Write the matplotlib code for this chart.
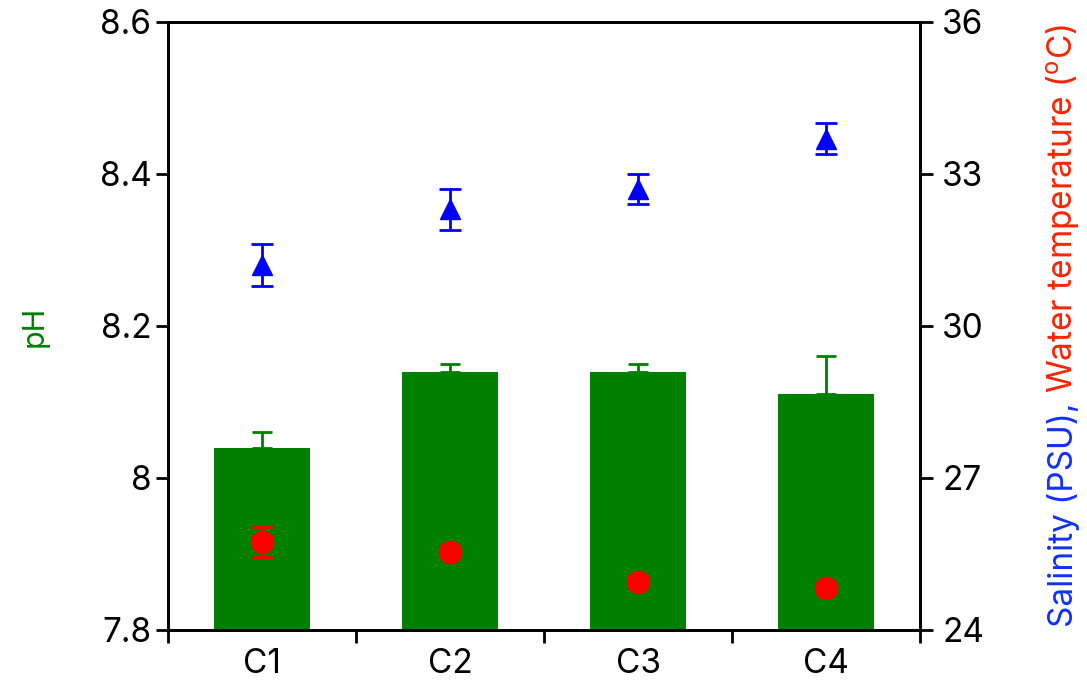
import numpy as np
import matplotlib
matplotlib.use("Agg")
import matplotlib.pyplot as plt

plt.rcParams['font.family'] = ['Inter', 'DejaVu Sans']

sites = ['C1', 'C2', 'C3', 'C4']
ph = [8.04, 8.14, 8.14, 8.11]
ph_err = [0.02, 0.01, 0.01, 0.05]
salinity = [31.2, 32.3, 32.7, 33.7]
salinity_err = [0.41, 0.41, 0.3, 0.3]
water_temp = [25.74, 25.54, 24.95, 24.83]
water_temp_err = [0.3, 0.1, 0.1, 0.1]

x = np.arange(1, len(sites) + 1)

fig = plt.figure(figsize=(10.87, 6.81), dpi=100)
ax = fig.add_axes([0.1546, 0.0749, 0.6918, 0.8928])

ax.bar(x, ph, width=0.51, color='green', zorder=2)
ax.errorbar(x, ph, yerr=[np.zeros(4), ph_err], fmt='none', ecolor='green',
            elinewidth=2, capsize=7, capthick=2, zorder=3)
ax.set_ylim(7.8, 8.6)
ax.set_xlim(0.5, 4.5)
ax.set_yticks([7.8, 8.0, 8.2, 8.4, 8.6])
ax.set_yticklabels(['7.8', '8', '8.2', '8.4', '8.6'])
ax.set_xticks(x)
ax.set_xticklabels(sites)
ax.set_xticks(np.arange(0.5, 4.6, 1.0), minor=True)
ax.tick_params(axis='x', which='major', length=0, labelsize=24, pad=13)
ax.tick_params(axis='x', which='minor', length=9, width=2, direction='out')
ax.tick_params(axis='y', length=9, width=2, labelsize=24, direction='out', pad=3)
for s in ax.spines.values():
    s.set_linewidth(2)

ax2 = ax.twinx()
ax2.set_ylim(24, 36)
ax2.set_yticks([24, 27, 30, 33, 36])
ax2.tick_params(axis='y', length=9, width=2, labelsize=24, direction='out', pad=7)
ax2.errorbar(x, salinity, yerr=salinity_err, fmt='^', color='blue',
             markersize=14, elinewidth=2, capsize=8, capthick=2, zorder=4)
ax2.errorbar(x, water_temp, yerr=water_temp_err, fmt='o', color='red',
             markersize=16, elinewidth=2, capsize=8, capthick=2, zorder=4)
for s in ax2.spines.values():
    s.set_linewidth(2)

W, H = 1087, 681
fig.text(35 / W, 1 - 326 / H, 'pH', color='green', fontsize=22,
         rotation=90, ha='center', va='center')

# two-colour right axis label, red part placed right after the blue part
blue_txt = fig.text(1063 / W, 1 - 627 / H, 'Salinity (PSU), ', color='#1030ff',
                    fontsize=24, rotation=90, ha='center', va='bottom')
fig.canvas.draw()
bb = blue_txt.get_window_extent(fig.canvas.get_renderer())
fig.text(1063 / W, bb.y1 / H, 'Water temperature ($^{\\rm o}$C)', color='#ff2200',
         fontsize=24, rotation=90, ha='center', va='bottom')

fig.savefig('out.png', dpi=100)
